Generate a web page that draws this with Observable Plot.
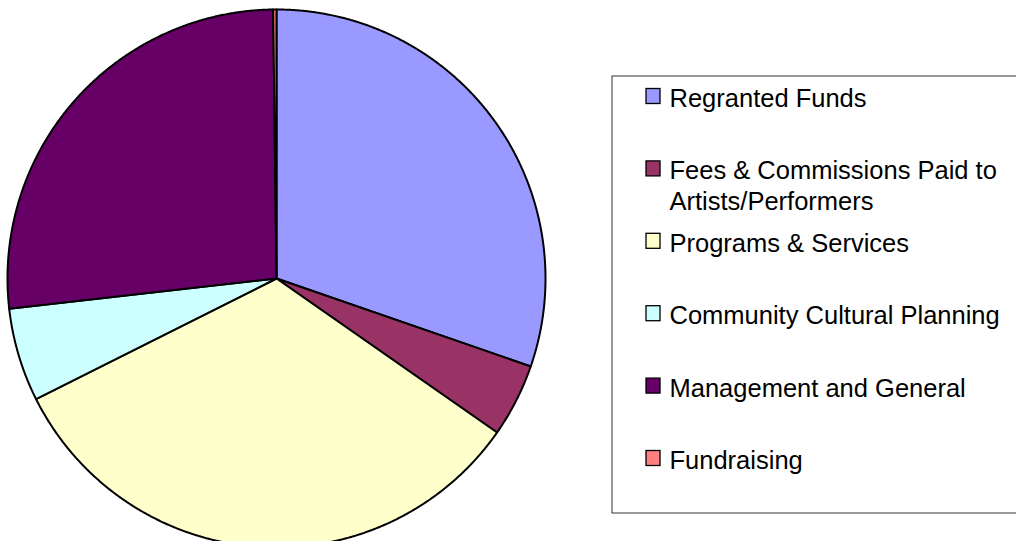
<!DOCTYPE html>
<html><head><meta charset="utf-8">
<script src="https://cdn.jsdelivr.net/npm/d3@7"></script>
<script src="https://cdn.jsdelivr.net/npm/@observablehq/plot@0.6"></script>
<style>html,body{margin:0;padding:0;overflow:hidden;background:#fff}</style>
</head><body><div id="chart"></div>
<script>
const categories = ["Regranted Funds", "Fees & Commissions Paid to Artists/Performers", "Programs & Services", "Community Cultural Planning", "Management and General", "Fundraising"];
const legendLabels = ["Regranted Funds", "Fees & Commissions Paid to\nArtists/Performers", "Programs & Services", "Community Cultural Planning", "Management and General", "Fundraising"];
const values = [30.3, 4.4, 32.9, 5.6, 26.6, 0.2];
const colors = ["#9999FF", "#993366", "#FFFFCC", "#CCFFFF", "#660066", "#FF8080"];

const W = 1016, H = 541;
const cx = 276, cy = 278, R = 269;

const data = categories.map((c, i) => ({name: c, label: legendLabels[i], value: values[i], color: colors[i], i}));
const arcs = d3.pie().sort(null).value(d => d.value)(data);

const pts = [];
for (const a of arcs) {
  const d = a.data;
  pts.push({name: d.name, color: d.color, x: cx, y: cy});
  const n = Math.max(2, Math.ceil((a.endAngle - a.startAngle) / (Math.PI / 720)));
  for (let k = 0; k <= n; k++) {
    const t = a.startAngle + (a.endAngle - a.startAngle) * k / n;
    pts.push({name: d.name, color: d.color, x: cx + R * Math.sin(t), y: cy - R * Math.cos(t)});
  }
  pts.push({name: d.name, color: d.color, x: cx, y: cy});
}

const base0 = 102.5, step = 72.4, fs = 25.5;
const baseline = d => base0 + d.i * step;

const chart = Plot.plot({
  width: W, height: H,
  margin: 0,
  x: {domain: [0, W], range: [0, W], axis: null},
  y: {domain: [0, H], range: [0, H], axis: null},
  color: {type: "identity"},
  style: {fontFamily: "'Liberation Sans', Arial, sans-serif", background: "#fff", overflow: "hidden"},
  marks: [
    Plot.line(pts, {x: "x", y: "y", z: "name", fill: "color", stroke: "black", strokeWidth: 2, curve: "linear", strokeLinejoin: "round"}),
    Plot.rect([0], {x1: () => 612, x2: () => 1040, y1: () => 76, y2: () => 513, fill: "white", stroke: "#333", strokeWidth: 1}),
    Plot.rect(data, {x1: () => 646, x2: () => 660, y1: d => baseline(d) - 14, y2: d => baseline(d) + 1, fill: "color", stroke: "black", strokeWidth: 1.3}),
    Plot.text(data, {x: () => 669, y: d => baseline(d) - 0.71 * fs, text: "label", textAnchor: "start", lineAnchor: "top", lineHeight: 31 / fs, fontSize: fs, fill: "black"})
  ]
});
document.getElementById("chart").appendChild(chart);
</script>
</body></html>
